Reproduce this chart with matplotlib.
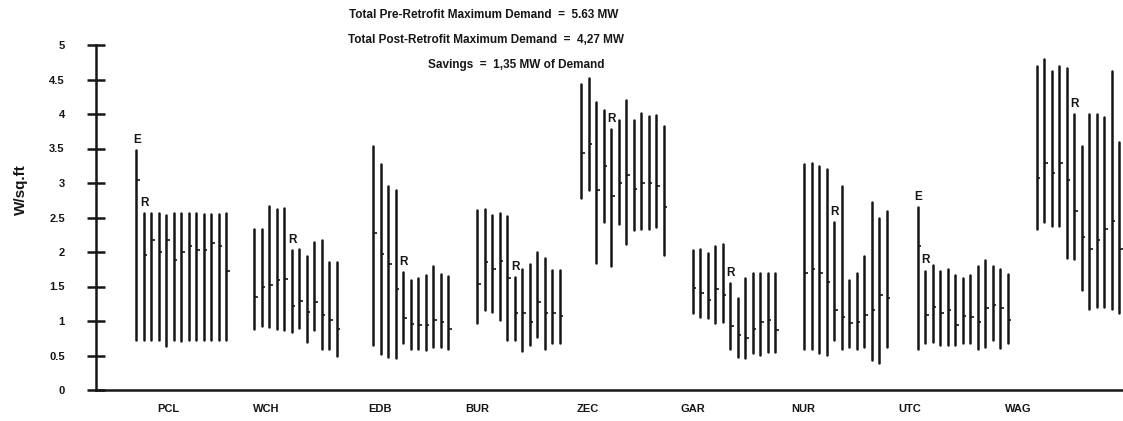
import matplotlib
matplotlib.use('Agg')
import matplotlib.pyplot as plt

plt.rcParams['font.family'] = ['Liberation Sans', 'DejaVu Sans']
plt.rcParams['font.weight'] = 'bold'

# Sites (buildings) along the x axis
sites = ['PCL', 'WCH', 'EDB', 'BUR', 'ZEC', 'GAR', 'NUR', 'UTC', 'WAG']

# Maximum, minimum and average demand (W/sq.ft) for each bar in each site
max_w = [
    [3.48, 2.56, 2.56, 2.56, 2.54, 2.56, 2.57, 2.56, 2.57, 2.55, 2.55, 2.55, 2.56],
    [2.34, 2.33, 2.66, 2.62, 2.64, 2.03, 2.05, 1.94, 2.14, 2.18, 1.85, 1.85],
    [3.53, 3.27, 2.96, 2.90, 1.71, 1.59, 1.62, 1.66, 1.79, 1.68, 1.65],
    [2.61, 2.62, 2.53, 2.56, 2.52, 1.64, 1.75, 1.83, 2.00, 1.92, 1.74, 1.74],
    [4.43, 4.52, 4.18, 4.06, 3.78, 3.91, 4.21, 3.91, 4.02, 3.97, 3.99, 3.83],
    [2.03, 2.04, 1.98, 2.09, 2.11, 1.55, 1.33, 1.62, 1.69, 1.70, 1.70, 1.70],
    [3.28, 3.29, 3.24, 3.20, 2.43, 2.95, 1.59, 1.69, 1.94, 2.73, 2.50, 2.60],
    [2.65, 1.73, 1.81, 1.73, 1.76, 1.67, 1.63, 1.67, 1.80, 1.88, 1.80, 1.75, 1.68],
    [4.69, 4.79, 4.63, 4.70, 4.67, 4.00, 3.53, 4.00, 4.00, 3.95, 4.62, 3.59],
]
min_w = [
    [0.72, 0.72, 0.72, 0.72, 0.64, 0.72, 0.71, 0.72, 0.73, 0.72, 0.72, 0.72, 0.72],
    [0.88, 0.93, 0.91, 0.88, 0.87, 0.84, 0.90, 0.69, 0.87, 0.60, 0.60, 0.49],
    [0.65, 0.52, 0.48, 0.46, 0.68, 0.60, 0.59, 0.58, 0.63, 0.62, 0.59],
    [0.97, 1.16, 1.13, 1.02, 0.73, 0.72, 0.56, 0.65, 0.77, 0.59, 0.68, 0.68],
    [2.78, 2.90, 1.84, 2.44, 1.80, 2.41, 2.12, 2.32, 2.34, 2.34, 2.36, 1.96],
    [1.11, 1.06, 1.04, 0.97, 0.98, 0.60, 0.48, 0.46, 0.53, 0.51, 0.55, 0.55],
    [0.60, 0.60, 0.54, 0.51, 0.73, 0.60, 0.62, 0.60, 0.62, 0.43, 0.39, 0.63],
    [0.60, 0.68, 0.70, 0.65, 0.65, 0.65, 0.68, 0.68, 0.60, 0.62, 0.72, 0.61, 0.68],
    [2.33, 2.43, 2.38, 2.38, 1.91, 1.90, 1.45, 1.18, 1.20, 1.20, 1.17, 1.11],
]
avg_w = [
    [3.05, 1.95, 2.17, 2.00, 2.17, 1.88, 2.00, 2.08, 2.03, 2.03, 2.13, 2.08, 1.72],
    [1.35, 1.49, 1.52, 1.60, 1.61, 1.22, 1.29, 1.13, 1.27, 1.09, 1.01, 0.89],
    [2.28, 1.97, 1.83, 1.46, 1.04, 0.96, 0.94, 0.94, 1.01, 0.99, 0.88],
    [1.54, 1.86, 1.75, 1.87, 1.62, 1.11, 1.11, 0.99, 1.28, 1.12, 1.11, 1.07],
    [3.44, 3.57, 2.90, 3.24, 2.81, 3.00, 3.12, 2.92, 3.00, 3.00, 2.95, 2.65],
    [1.48, 1.40, 1.31, 1.47, 1.38, 0.93, 0.80, 0.75, 0.89, 0.99, 1.01, 0.87],
    [1.69, 1.76, 1.69, 1.56, 1.16, 1.06, 0.97, 0.99, 1.09, 1.16, 1.38, 1.33],
    [2.08, 1.09, 1.21, 1.11, 1.16, 0.94, 1.07, 1.06, 0.99, 1.19, 1.23, 1.19, 1.01],
    [3.07, 3.29, 3.14, 3.29, 3.05, 2.60, 2.22, 2.05, 2.17, 2.34, 2.45, 2.04],
]
# bar where the retrofit ("R") starts, and sites with an "E" marker on the first bar
retrofit_idx = [1, 5, 4, 5, 4, 5, 4, 1, 5]
e_marker = [True, False, False, False, False, False, False, True, False]

titles = ['Total Pre-Retrofit Maximum Demand  =  5.63 MW',
          'Total Post-Retrofit Maximum Demand  =  4,27 MW',
          'Savings  =  1,35 MW of Demand']

# layout (x in pixel-like units from the left of the figure)
group_start = [136, 254, 373.3, 477.3, 581.3, 692.7, 804, 917.7, 1036.5]
label_x = [168, 266, 380, 477, 588, 693, 803, 910, 1018]
step = 7.5
ink = '#161616'

W, H = 1123, 421
fig = plt.figure(figsize=(W / 100, H / 100), dpi=100)
ax = fig.add_axes([96 / W, 31 / H, 1 - 96 / W, 345 / H])
ax.set_xlim(96, W)
ax.set_ylim(0, 5)

for g in range(len(sites)):
    for i in range(len(max_w[g])):
        x = group_start[g] + i * step
        ax.vlines(x, min_w[g][i], max_w[g][i], color=ink, lw=1.8, capstyle='round')
        ax.hlines(avg_w[g][i], x, x + 3.5, color=ink, lw=1.2)
    r = retrofit_idx[g]
    ax.annotate('R', (group_start[g] + r * step, max_w[g][r]), xytext=(0.5, 3),
                textcoords='offset points', ha='center', va='bottom',
                fontsize=8.5, color=ink, annotation_clip=False)
    if e_marker[g]:
        ax.annotate('E', (group_start[g], max_w[g][0]), xytext=(0.5, 3),
                    textcoords='offset points', ha='center', va='bottom',
                    fontsize=8.5, color=ink, annotation_clip=False)

for s in ['top', 'right']:
    ax.spines[s].set_visible(False)
for s in ['left', 'bottom']:
    ax.spines[s].set_linewidth(1.8)
    ax.spines[s].set_color(ink)

yt = [k * 0.5 for k in range(11)]
ax.set_yticks(yt)
ax.set_yticklabels(['0', '0.5', '1', '1.5', '2', '2.5', '3', '3.5', '4', '4.5', '5'])
ax.tick_params(axis='y', direction='inout', length=13, width=1.8, color=ink,
               pad=16, labelsize=8, labelcolor=ink)
ax.set_xticks(label_x)
ax.set_xticklabels(sites)
ax.tick_params(axis='x', length=0, pad=10, labelsize=8, labelcolor=ink)

fig.text(21 / W, 1 - 190 / H, 'W/sq.ft', rotation=90, ha='center', va='center',
         fontsize=11, color=ink)

title_pos = [(484, 15), (486, 40), (516, 65)]
for t, (tx, ty) in zip(titles, title_pos):
    fig.text(tx / W, 1 - ty / H, t, ha='center', va='center', fontsize=8.5, color=ink)

fig.savefig('out.png', dpi=100)
